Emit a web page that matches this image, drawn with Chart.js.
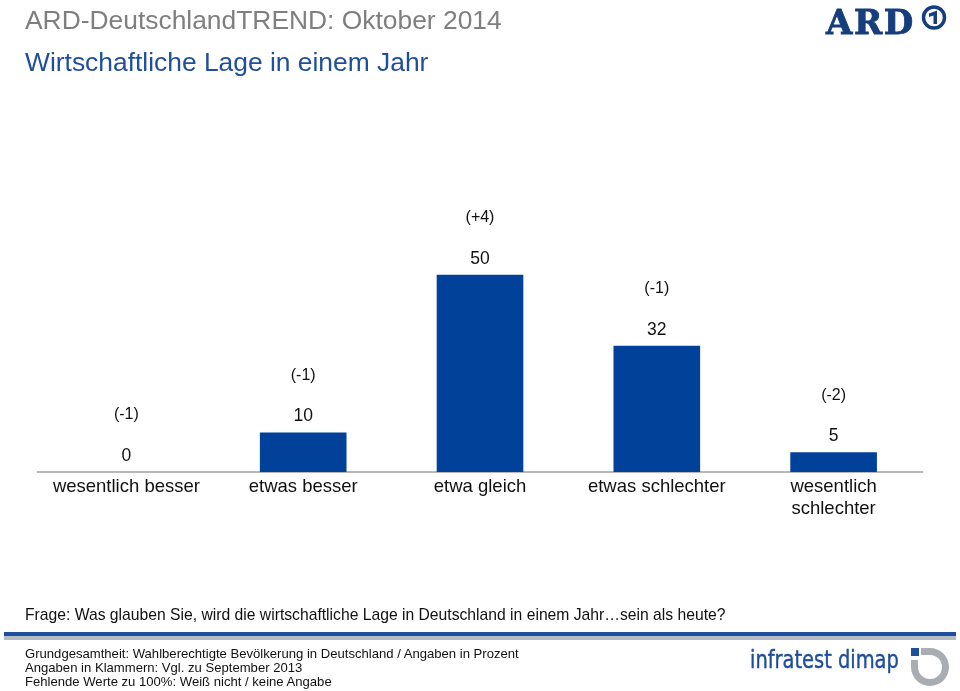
<!DOCTYPE html>
<html>
<head>
<meta charset="utf-8">
<script src="https://cdn.jsdelivr.net/npm/chart.js@4/dist/chart.umd.min.js"></script>
<style>
  html,body{margin:0;padding:0;background:#fff;}
  #wrap{position:relative;width:960px;height:691px;overflow:hidden;font-family:"Liberation Sans",Arial,sans-serif;}
  #c{position:absolute;left:0;top:0;}
  .t{position:absolute;white-space:nowrap;}
</style>
</head>
<body>
<div id="wrap">
  <canvas id="c" width="960" height="691"></canvas>
  <div class="t" style="left:25px;top:5px;font-size:26.4px;color:#7f7f7f;">ARD-DeutschlandTREND: Oktober 2014</div>
  <div class="t" style="left:25px;top:47px;font-size:26.4px;color:#1f4e9c;">Wirtschaftliche Lage in einem Jahr</div>
  <div class="t" style="left:826px;top:2px;font-size:34px;font-weight:900;font-family:'DejaVu Serif','Liberation Serif',serif;color:#163d7c;letter-spacing:1.5px;-webkit-text-stroke:0.8px #163d7c;">ARD</div>
  <svg class="t" style="left:920px;top:4px;" width="28" height="28" viewBox="0 0 28 28">
    <circle cx="14" cy="13.5" r="10.5" fill="none" stroke="#163d7c" stroke-width="3.5"/>
    <path d="M9 9.5 L17 6.5 L17 20 L13.5 20 L13.5 11.5 L9 13 Z" fill="#163d7c"/>
  </svg>
  <div class="t" style="left:25px;top:606px;font-size:15.7px;color:#111;">Frage: Was glauben Sie, wird die wirtschaftliche Lage in Deutschland in einem Jahr…sein als heute?</div>
  <div style="position:absolute;left:4px;top:632px;width:952px;height:4px;background:#1f4e9c;"></div>
  <div style="position:absolute;left:4px;top:636px;width:952px;height:4px;background:#b4bcc6;"></div>
  <div class="t" style="left:25px;top:647px;font-size:13.1px;line-height:14px;color:#111;">Grundgesamtheit: Wahlberechtigte Bevölkerung in Deutschland / Angaben in Prozent<br>Angaben in Klammern: Vgl. zu September 2013<br>Fehlende Werte zu 100%: Weiß nicht / keine Angabe</div>
  <div class="t" style="left:750px;top:646px;font-size:24px;font-family:'DejaVu Sans Condensed','Liberation Sans Narrow',sans-serif;color:#1f4e9c;transform:scaleX(0.9);transform-origin:0 0;-webkit-text-stroke:0.4px #1f4e9c;">infratest dimap</div>
  <svg class="t" style="left:900px;top:640px;" width="60" height="51" viewBox="0 0 60 51">
    <rect x="11" y="8" width="8" height="8" fill="#1f4e9c"/>
    <path d="M21 8 L30 8 A19 19 0 1 1 11 27 L11 20 L18 20 L18 27 A12 12 0 1 0 30 15 L21 15 Z" fill="#a9adb2"/>
  </svg>
</div>
<script>
const categories = ['wesentlich besser', 'etwas besser', 'etwa gleich', 'etwas schlechter', ['wesentlich', 'schlechter']];
const values = [0, 10, 50, 32, 5];
const changes = ['(-1)', '(-1)', '(+4)', '(-1)', '(-2)'];

const labelPlugin = {
  id: 'barLabels',
  afterDatasetsDraw(chart) {
    const ctx = chart.ctx;
    const meta = chart.getDatasetMeta(0);
    ctx.save();
    ctx.textAlign = 'center';
    ctx.textBaseline = 'middle';
    ctx.fillStyle = '#111';
    meta.data.forEach((bar, i) => {
      const vy = bar.y - 16;
      ctx.font = '17.5px "Liberation Sans", Arial, sans-serif';
      ctx.fillText(String(values[i]), bar.x, vy);
      ctx.font = '16px "Liberation Sans", Arial, sans-serif';
      ctx.fillText(changes[i], bar.x, vy - 41);
    });
    ctx.restore();
  }
};

new Chart(document.getElementById('c'), {
  type: 'bar',
  data: {
    labels: categories,
    datasets: [{
      data: values,
      backgroundColor: '#02419a',
      categoryPercentage: 1,
      barPercentage: 0.49
    }]
  },
  options: {
    responsive: false,
    animation: false,
    events: [],
    layout: { padding: { left: 38, right: 38, top: 117, bottom: 0 } },
    plugins: { legend: { display: false }, tooltip: { enabled: false } },
    scales: {
      y: { display: false, min: 0, max: 90 },
      x: {
        grid: { display: false, drawTicks: false },
        border: { display: true, color: '#b8b8b8', width: 2 },
        ticks: {
          color: '#111',
          font: { size: 18.5, family: '"Liberation Sans", Arial, sans-serif', lineHeight: 1.2 },
          padding: 4,
          autoSkip: false,
          maxRotation: 0
        },
        afterFit(s) { s.height = 219; }
      }
    }
  },
  plugins: [labelPlugin]
});
</script>
</body>
</html>
